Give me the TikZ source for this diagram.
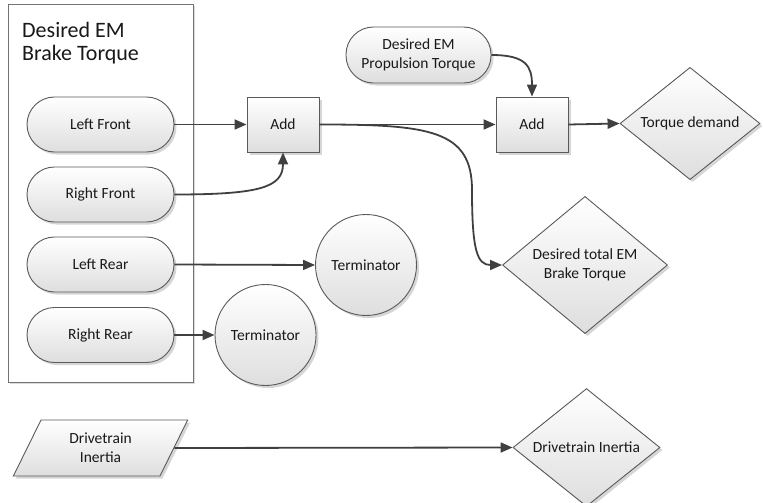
\documentclass[tikz,border=0pt]{standalone}
\usepackage{fontspec}
\setmainfont{Carlito}
\usetikzlibrary{shapes.geometric,shadows,arrows.meta}
\definecolor{edgegray}{HTML}{404040}
\definecolor{outlinegray}{HTML}{5A5A5A}
\tikzset{
  shapebase/.style={draw=outlinegray, line width=0.9pt, top color=white, bottom color=black!13,
    drop shadow={shadow xshift=2.5pt, shadow yshift=-2.5pt, fill=black!16, opacity=1},
    font=\fontsize{15.5}{19}\selectfont, text=black!90, align=center, inner sep=0pt},
  termbox/.style={shapebase, rectangle, rounded corners=27.5pt, minimum width=147pt, minimum height=55pt},
  procbox/.style={shapebase, rectangle, minimum width=72pt, minimum height=55pt},
  decbox/.style={shapebase, diamond},
  termcircle/.style={shapebase, circle, minimum size=101pt},
  databox/.style={shapebase, trapezium, trapezium left angle=64, trapezium right angle=116,
    trapezium stretches=true, minimum width=175pt, minimum height=56pt},
  conn/.style={draw=edgegray, line width=1.8pt, -{Triangle[length=12pt,width=10pt]}},
}
\begin{document}
\begin{tikzpicture}[x=1pt,y=-1pt]
  \useasboundingbox (0,0) rectangle (763,503);

  % container of the brake torque inputs
  \node[draw=outlinegray!85, line width=0.8pt, fill=white,
        drop shadow={shadow xshift=2pt, shadow yshift=-2pt, fill=black!14, opacity=1},
        minimum width=185pt, minimum height=378pt, inner sep=0pt] (group) at (100.5,193) {};
  \node[anchor=north west, align=left, inner sep=0pt, text=black!90,
        font=\fontsize{22}{23.5}\selectfont] (title) at (22,22) {Desired EM\\Brake Torque};

  % wheel inputs
  \node[termbox] (lf) at (100.5,124.5) {Left Front};
  \node[termbox] (rf) at (100.5,194.5) {Right Front};
  \node[termbox] (lr) at (100.5,264.5) {Left Rear};
  \node[termbox] (rr) at (100.5,335) {Right Rear};

  % summing blocks and outputs
  \node[procbox] (add1) at (283,124.5) {Add};
  \node[procbox] (add2) at (532,124.5) {Add};
  \node[termbox, minimum width=145pt, minimum height=56pt] (prop) at (418.5,55) {Desired EM\\Propulsion Torque};
  \node[decbox, minimum width=140pt, minimum height=110pt] (td) at (690,123.5) {Torque demand};
  \node[decbox, minimum width=165pt, minimum height=124pt] (dt) at (585,265) {Desired total EM\\Brake Torque};

  % terminators
  \node[termcircle] (t1) at (366,265) {Terminator};
  \node[termcircle] (t2) at (265.5,335) {Terminator};

  % drivetrain inertia
  \node[databox] (din) at (100.5,448) {Drivetrain\\Inertia};
  \node[decbox, minimum width=147pt, minimum height=110pt] (dout) at (586.5,447.5) {Drivetrain Inertia};

  % connectors
  \draw[conn] (lf.east) -- (add1.west);
  \draw[conn] (rf.east) .. controls +(85,0) and +(0,35) .. (add1.south);
  \draw[conn] (add1.east) -- (add2.west);
  \draw[conn] (add1.east) .. controls +(110,0) and +(0,-60) .. (472,190)
                          .. controls +(0,60) and +(-25,0) .. (dt.west);
  \draw[conn] (prop.east) .. controls +(35,0) and +(0,-30) .. (add2.north);
  \draw[conn] (add2.east) -- (td.west);
  \draw[conn] (lr.east) -- (t1.west);
  \draw[conn] (rr.east) -- (t2.west);
  \draw[conn] (din.east) -- (dout.west);
\end{tikzpicture}
\end{document}
